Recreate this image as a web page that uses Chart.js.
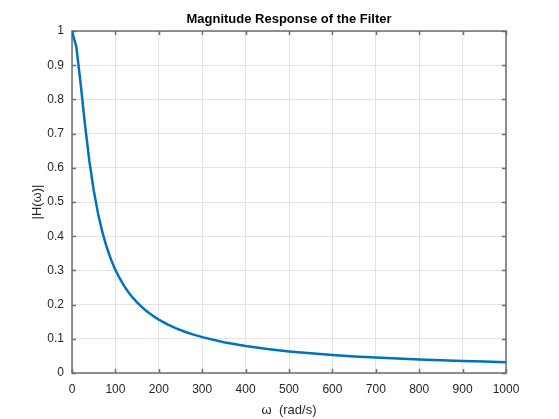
<!DOCTYPE html>
<html>
<head>
<meta charset="utf-8">
<script src="https://cdn.jsdelivr.net/npm/chart.js@4.4.1/dist/chart.umd.min.js"></script>
<style>
  html, body { margin: 0; padding: 0; background: #fff; }
  #wrap { width: 559px; height: 419px; }
</style>
</head>
<body>
<div id="wrap"><canvas id="myChart" width="559" height="419"></canvas></div>
<script>
// frequency samples (rad/s) and the magnitude
var omega = [0, 10, 20, 30, 40, 50, 60, 70, 80, 90, 100,
             110, 120, 130, 140, 150, 160, 170, 180, 190, 200,
             220, 240, 260, 280, 300, 350, 400, 450, 500,
             550, 600, 650, 700, 750, 800, 850, 900, 950, 1000];
var magnitude = [1, 0.9535, 0.845, 0.7255, 0.620, 0.5345, 0.4663, 0.4117, 0.3676, 0.3315, 0.3015,
                 0.2763, 0.2548, 0.2364, 0.2203, 0.2063, 0.1939, 0.1829, 0.1730, 0.1642, 0.1562,
                 0.1423, 0.1306, 0.1207, 0.1122, 0.1048, 0.0900, 0.0788, 0.0701, 0.0631,
                 0.0574, 0.0526, 0.0486, 0.0451, 0.0421, 0.0395, 0.0372, 0.0351, 0.0333, 0.0316];
var xTickLabels = ['0', '100', '200', '300', '400', '500', '600', '700', '800', '900', '1000'];
var yTickLabels = ['0', '0.1', '0.2', '0.3', '0.4', '0.5', '0.6', '0.7', '0.8', '0.9', '1'];

var FONT = "'Liberation Sans', Arial, Helvetica, sans-serif";

// matlab-ish box with ticks pointing inward on all four sides
var boxPlugin = {
  id: 'matlabBox',
  beforeDatasetsDraw: function(chart) {
    var ctx = chart.ctx;
    var a = chart.chartArea;
    var xs = chart.scales.x, ys = chart.scales.y;
    var len = 4;
    ctx.save();
    ctx.strokeStyle = '#6e6e6e';
    ctx.lineWidth = 1.5;
    ctx.beginPath();
    xs.ticks.forEach(function(t) {
      var px = Math.round(xs.getPixelForValue(t.value)) + 0.5;
      ctx.moveTo(px, a.bottom); ctx.lineTo(px, a.bottom - len);
      ctx.moveTo(px, a.top); ctx.lineTo(px, a.top + len);
    });
    ys.ticks.forEach(function(t) {
      var py = Math.round(ys.getPixelForValue(t.value)) + 0.5;
      ctx.moveTo(a.left, py); ctx.lineTo(a.left + len, py);
      ctx.moveTo(a.right, py); ctx.lineTo(a.right - len, py);
    });
    ctx.stroke();
    ctx.strokeRect(a.left, a.top, a.right - a.left, a.bottom - a.top);
    ctx.restore();
  }
};

var ctx = document.getElementById('myChart');
var myChart = new Chart(ctx, {
  type: 'line',
  data: {
    datasets: [{
      label: '|H(ω)|',
      data: omega.map(function(w, i) { return { x: w, y: magnitude[i] }; }),
      borderColor: '#0072BD',
      borderWidth: 2.5,
      pointRadius: 0,
      tension: 0,
      fill: false
    }]
  },
  options: {
    responsive: false,
    animation: false,
    layout: { padding: { left: 0, right: 53, top: 0, bottom: 0 } },
    plugins: {
      legend: { display: false },
      tooltip: { enabled: false },
      title: {
        display: true,
        fullSize: false,
        text: 'Magnitude Response of the Filter',
        color: '#000',
        font: { family: FONT, size: 13, weight: 'bold' },
        padding: { top: 12, bottom: 3.4 }
      }
    },
    scales: {
      x: {
        type: 'linear',
        min: 0,
        max: 1000,
        border: { display: false },
        grid: { color: '#e3e3e3', lineWidth: 1, drawTicks: false },
        ticks: {
          stepSize: 100,
          padding: 9,
          maxRotation: 0,
          color: '#262626',
          font: { family: FONT, size: 12 },
          callback: function(v, i) { return xTickLabels[i]; }
        },
        title: {
          display: true,
          text: 'ω  (rad/s)',
          color: '#262626',
          font: { family: FONT, size: 13 },
          padding: { top: 1, bottom: 1 }
        },
        afterFit: function(scale) { scale.height = 46; }
      },
      y: {
        min: 0,
        max: 1,
        border: { display: false },
        grid: { color: '#e3e3e3', lineWidth: 1, drawTicks: false },
        ticks: {
          stepSize: 0.1,
          padding: 8,
          color: '#262626',
          font: { family: FONT, size: 12 },
          callback: function(v, i) { return yTickLabels[i]; }
        },
        title: {
          display: true,
          text: '|H(ω)|',
          color: '#262626',
          font: { family: FONT, size: 13 },
          padding: { top: 30, bottom: 2 }
        },
        afterFit: function(scale) { scale.width = 72; }
      }
    }
  },
  plugins: [boxPlugin]
});
</script>
</body>
</html>
